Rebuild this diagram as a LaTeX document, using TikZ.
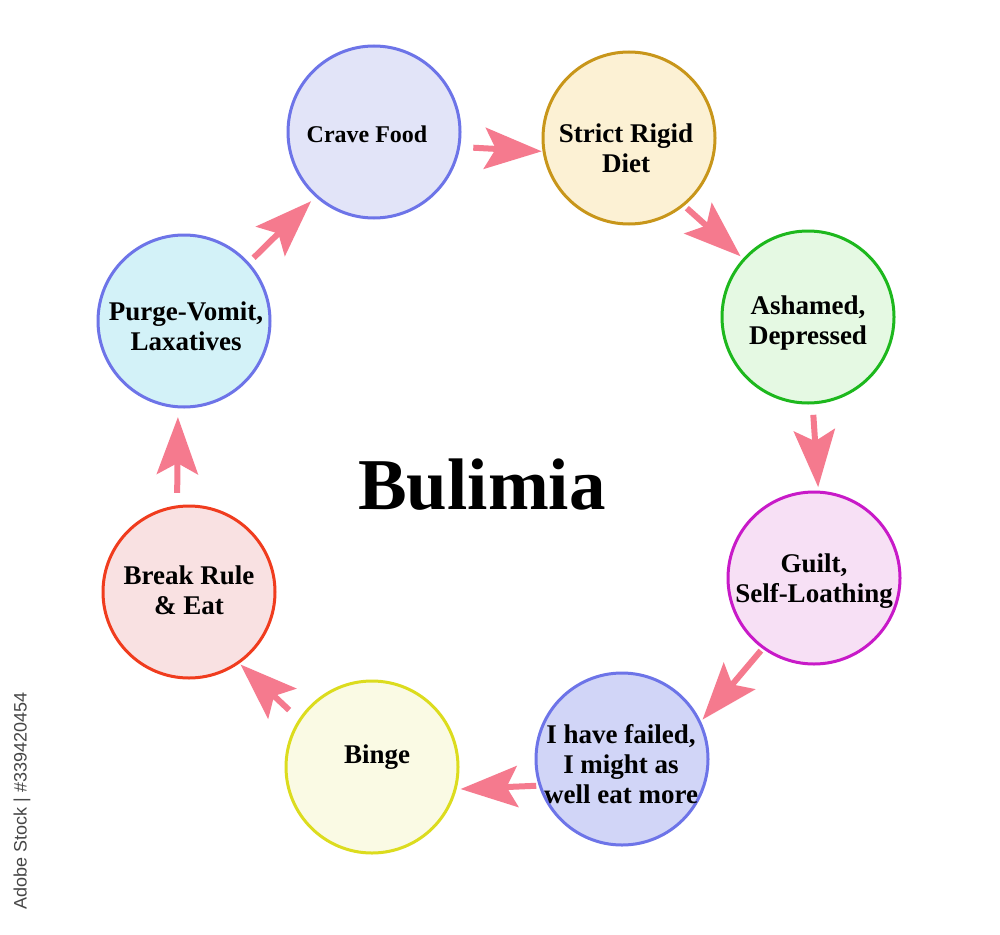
\documentclass[tikz,border=0pt]{standalone}
\usepackage{fontspec}
\setmainfont{Liberation Serif}
\newfontfamily\sansf{Liberation Sans}
\usetikzlibrary{arrows.meta}
\definecolor{arrowpink}{RGB}{245,122,142}
\definecolor{bluebd}{RGB}{109,116,232}
\definecolor{cravefill}{RGB}{226,228,248}
\definecolor{strictbd}{RGB}{200,150,26}
\definecolor{strictfill}{RGB}{252,241,212}
\definecolor{ashbd}{RGB}{29,184,29}
\definecolor{ashfill}{RGB}{229,249,227}
\definecolor{guiltbd}{RGB}{200,26,200}
\definecolor{guiltfill}{RGB}{247,224,245}
\definecolor{failfill}{RGB}{209,213,247}
\definecolor{bingebd}{RGB}{220,220,30}
\definecolor{bingefill}{RGB}{250,250,228}
\definecolor{breakbd}{RGB}{240,60,30}
\definecolor{breakfill}{RGB}{249,225,226}
\definecolor{purgefill}{RGB}{211,242,248}
\definecolor{wmgray}{RGB}{70,70,70}
\begin{document}
\begin{tikzpicture}[x=1pt,y=-1pt,
  stage/.style args={#1/#2}{circle, draw=#1, fill=#2, line width=3pt,
    minimum size=172pt, inner sep=0pt, outer sep=0pt},
  lbl/.style={font=\fontsize{27}{30}\selectfont\bfseries, align=center, text=black},
  arr/.style={draw=arrowpink, line width=6pt,
    -{Stealth[length=57pt,width=41pt,inset=11pt]}}
]
\useasboundingbox (0,0) rectangle (1000,934);
\fill[white] (0,0) rectangle (1000,934);

% circles
\node[stage=bluebd/cravefill]     (crave)  at (374,132) {};
\node[stage=strictbd/strictfill]  (strict) at (629,138) {};
\node[stage=ashbd/ashfill]        (ash)    at (808,317) {};
\node[stage=guiltbd/guiltfill]    (guilt)  at (814,578) {};
\node[stage=bluebd/failfill]      (fail)   at (622,759) {};
\node[stage=bingebd/bingefill]    (binge)  at (372,767) {};
\node[stage=breakbd/breakfill]    (brk)    at (189,592) {};
\node[stage=bluebd/purgefill]     (purge)  at (184,321) {};

% labels
\node[lbl, font=\fontsize{24}{28}\selectfont\bfseries] (tcrave) at (367,134) {Crave Food};
\node[lbl] (tstrict) at (626,148) {Strict Rigid\\Diet};
\node[lbl] (tash)    at (808,323) {Ashamed,\\Depressed};
\node[lbl] (tguilt)  at (814,581) {Guilt,\\Self-Loathing};
\node[lbl] (tfail)   at (621,764) {I have failed,\\I might as\\well eat more};
\node[lbl] (tbinge)  at (377,757) {Binge};
\node[lbl] (tbrk)    at (189,590) {Break Rule\\\& Eat};
\node[lbl] (tpurge)  at (186,326) {Purge-Vomit,\\Laxatives};

% title
\node[font=\fontsize{73}{80}\selectfont\bfseries] (title) at (482,485) {Bulimia};

% arrows
\draw[arr, shorten <=14.6pt, shorten >=2.3pt] (crave.-10.3) -- (strict.189.8);
\draw[arr, shorten <=5pt, shorten >=4.7pt] (strict.-51.2) -- (ash.138.6);
\draw[arr, shorten <=12pt, shorten >=5pt] (ash.-87.1) -- (guilt.87.5);
\draw[arr, shorten <=4pt, shorten >=4pt] (guilt.-126.9) -- (fail.25.7);
\draw[arr, shorten <=4pt, shorten >=5.5pt] (fail.198.8) -- (binge.-15.9);
\draw[arr, shorten <=14.7pt, shorten >=3pt] (binge.147.6) -- (brk.-55.1);
\draw[arr, shorten <=14pt, shorten >=10.3pt] (brk.98) -- (purge.-94.8);
\draw[arr, shorten <=8pt, shorten >=7.5pt] (purge.42.8) -- (crave.228.5);

% side credit
\node[rotate=90, font=\sansf\fontsize{18}{20}\selectfont, text=wmgray] (credit) at (22,801) {Adobe Stock | \#339420454};
\end{tikzpicture}
\end{document}
